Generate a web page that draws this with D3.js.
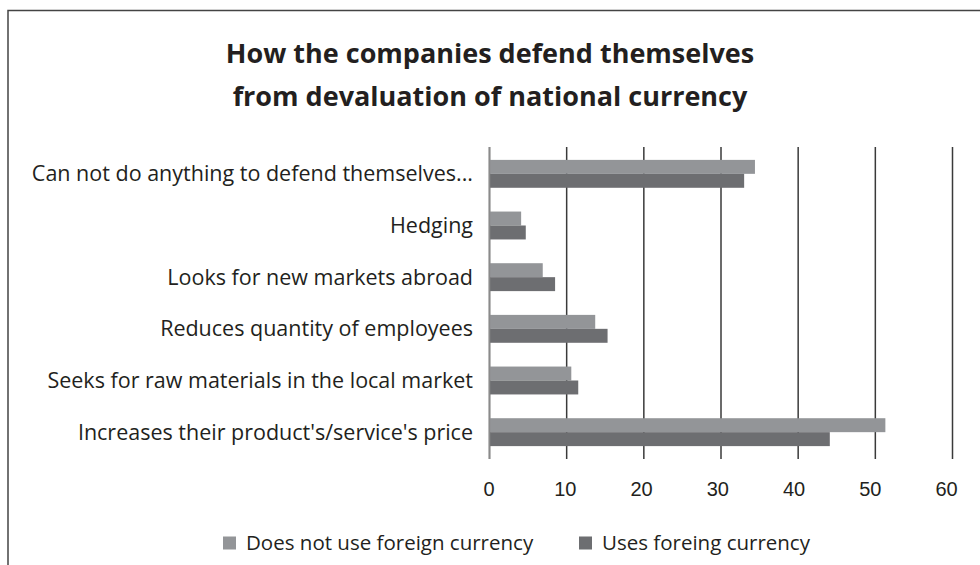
<!DOCTYPE html>
<html>
<head>
<meta charset="utf-8">
<script src="https://cdn.jsdelivr.net/npm/d3@7"></script>
<style>
  body { margin: 0; background: #fff; }
  svg { font-family: "Open Sans", "Noto Sans", sans-serif; }
</style>
</head>
<body>
<div class="chart"></div>
<script>
let width = 980
let height = 565

// categories top to bottom
let categories = [
    'Can not do anything to defend themselves...',
    'Hedging',
    'Looks for new markets abroad',
    'Reduces quantity of employees',
    'Seeks for raw materials in the local market',
    "Increases their product's/service's price"
]
let seriesNames = ['Does not use foreign currency', 'Uses foreing currency']
let noForeign = [34.4, 4.1, 6.9, 13.7, 10.6, 51.3]
let usesForeign = [33.0, 4.7, 8.5, 15.3, 11.5, 44.1]
let xTicks = [0, 10, 20, 30, 40, 50, 60]
let colors = ['#939598', '#6d6e71']

let svg = d3.select('div.chart')
    .append('svg')
    .attr('width', width)
    .attr('height', height)

// frame (top and left edges only are visible)
svg.append('path')
    .attr('d', 'M8,' + height + 'V10.5H' + width)
    .style('fill', 'none')
    .style('stroke', '#444')
    .style('stroke-width', 1.5)

svg.append('text')
    .attr('x', 490).attr('y', 63)
    .attr('text-anchor', 'middle')
    .style('font-size', '27px').style('font-weight', 'bold').style('fill', '#231f20')
    .text('How the companies defend themselves')
svg.append('text')
    .attr('x', 490).attr('y', 106)
    .attr('text-anchor', 'middle')
    .style('font-size', '27px').style('font-weight', 'bold').style('fill', '#231f20')
    .text('from devaluation of national currency')

let x = d3.scaleLinear().domain([0, 60]).range([489.5, 952.5])
// tick labels sit a little tighter than the gridlines in the original
let xLabel = d3.scaleLinear().domain([0, 60]).range([489, 946.5])
let y = d3.scaleBand().domain(categories).range([148, 458]).paddingInner(0.46).paddingOuter(0.23)
let ySub = d3.scaleBand().domain([0, 1]).range([0, y.bandwidth()])

// gridlines
svg.append('g')
    .selectAll('line')
    .data(xTicks)
    .enter()
    .append('line')
    .attr('x1', d => x(d)).attr('x2', d => x(d))
    .attr('y1', 147).attr('y2', 459)
    .style('stroke', '#3a3a3a')
    .style('stroke-width', 1.5)

let groups = svg.append('g')
    .selectAll('g')
    .data(categories)
    .enter()
    .append('g')
    .attr('transform', d => 'translate(0,' + y(d) + ')')

groups.selectAll('rect')
    .data((d, i) => [noForeign[i], usesForeign[i]])
    .enter()
    .append('rect')
    .attr('x', x(0))
    .attr('y', (d, j) => ySub(j))
    .attr('width', d => x(d) - x(0))
    .attr('height', ySub.bandwidth())
    .style('fill', (d, j) => colors[j])

// redraw the zero line above the bars
svg.append('line')
    .attr('x1', x(0)).attr('x2', x(0))
    .attr('y1', 147).attr('y2', 459)
    .style('stroke', '#8a8a8a')
    .style('stroke-width', 1.5)

// category labels
svg.append('g')
    .selectAll('text')
    .data(categories)
    .enter()
    .append('text')
    .attr('x', 473)
    .attr('y', d => y(d) + y.bandwidth() / 2)
    .attr('dy', '0.35em')
    .attr('text-anchor', 'end')
    .style('font-size', '21.5px')
    .style('fill', '#231f20')
    .text(d => d)

// x tick labels
svg.append('g')
    .selectAll('text')
    .data(xTicks)
    .enter()
    .append('text')
    .attr('x', d => xLabel(d))
    .attr('y', 489)
    .attr('dy', '0.35em')
    .attr('text-anchor', 'middle')
    .style('font-family', '"Liberation Sans", Arial, sans-serif')
    .style('font-size', '20px')
    .style('fill', '#231f20')
    .text(d => d)

// legend
let legendX = [223, 579]
let legend = svg.append('g')
    .selectAll('g')
    .data(seriesNames)
    .enter()
    .append('g')
    .attr('transform', (d, i) => 'translate(' + legendX[i] + ',543)')
legend.append('rect')
    .attr('x', 0).attr('y', -6.5)
    .attr('width', 13).attr('height', 13)
    .style('fill', (d, i) => colors[i])
legend.append('text')
    .attr('x', 23).attr('y', 0)
    .attr('dy', '0.35em')
    .style('font-size', '20.5px')
    .style('fill', '#231f20')
    .text(d => d)
</script>
</body>
</html>
